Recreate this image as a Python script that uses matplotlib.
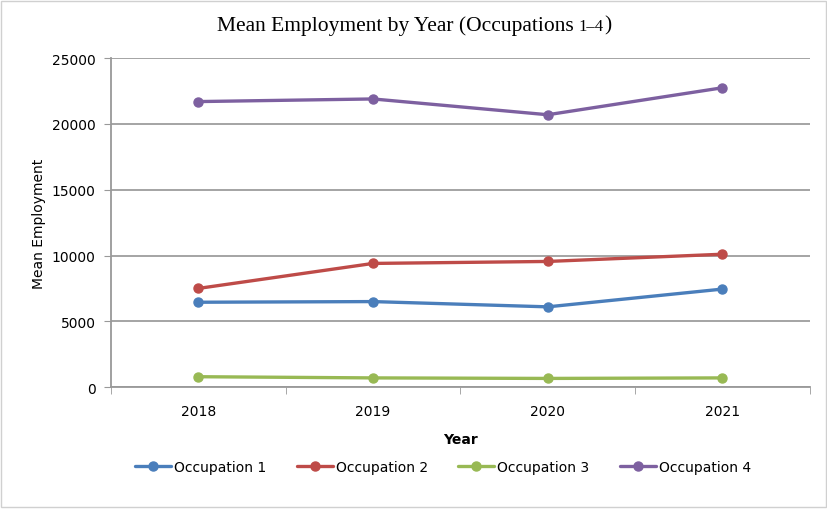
import matplotlib
matplotlib.use('Agg')
import matplotlib.pyplot as plt
from matplotlib.patches import Rectangle

years = ['2018', '2019', '2020', '2021']
occ1 = [6450, 6500, 6100, 7450]
occ2 = [7500, 9400, 9550, 10100]
occ3 = [790, 700, 660, 700]
occ4 = [21700, 21900, 20700, 22750]

series = [
    ('Occupation 1', occ1, '#4a7ebb'),
    ('Occupation 2', occ2, '#be4b48'),
    ('Occupation 3', occ3, '#98b954'),
    ('Occupation 4', occ4, '#7d60a0'),
]

fig = plt.figure(figsize=(8.28, 5.10), dpi=100)
ax = fig.add_axes([0.134, 0.239, 0.844, 0.645])

x = range(len(years))
for name, vals, col in series:
    ax.plot(x, vals, color=col, lw=2.4, marker='o', ms=6.5, label=name,
            solid_capstyle='round')

ax.set_xlim(-0.5, len(years) - 0.5)
ax.set_ylim(0, 25000)
ax.set_yticks(range(0, 25001, 5000))
ax.set_xticks(list(x))
ax.set_xticklabels(years)
ax.set_xticks([i - 0.5 for i in range(len(years) + 1)], minor=True)
ax.tick_params(axis='x', which='major', length=0, pad=12, labelsize=10)
ax.tick_params(axis='x', which='minor', length=5, color='#999999')
ax.tick_params(axis='y', length=5, color='#999999', labelsize=10, pad=6)
ax.yaxis.grid(True, color='#9d9d9d', lw=1.3)
ax.set_axisbelow(True)
for s in ['top', 'right']:
    ax.spines[s].set_visible(False)
for s in ['left', 'bottom']:
    ax.spines[s].set_color('#999999')
    ax.spines[s].set_linewidth(1.3)

ax.set_ylabel('Mean Employment', fontsize=10, labelpad=4)
ax.set_xlabel('Year', fontsize=10, fontweight='bold', labelpad=10)

# title in three pieces so the range digits come out smaller
parts = [('Mean Employment by Year (Occupations ', 15.5),
         ('1\u20134', 12),
         (')', 15.5)]
texts = [fig.text(0, 0.94, s, fontsize=fs, family='Liberation Serif',
                  ha='left', va='baseline') for s, fs in parts]
fig.canvas.draw()
r = fig.canvas.get_renderer()
widths = [t.get_window_extent(r).width / fig.bbox.width for t in texts]
xpos = 0.5 - sum(widths) / 2
for t, w in zip(texts, widths):
    t.set_x(xpos)
    xpos += w

fig.legend(loc='center', bbox_to_anchor=(0.535, 0.083), ncol=4, frameon=False,
           fontsize=10, handlelength=2.6, columnspacing=2.2, handletextpad=0.2)

fig.patches.append(Rectangle((0.001, 0.003), 0.996, 0.994, transform=fig.transFigure,
                             fill=False, edgecolor='#d0d0d0', lw=1))

fig.savefig('out.png', dpi=100)
